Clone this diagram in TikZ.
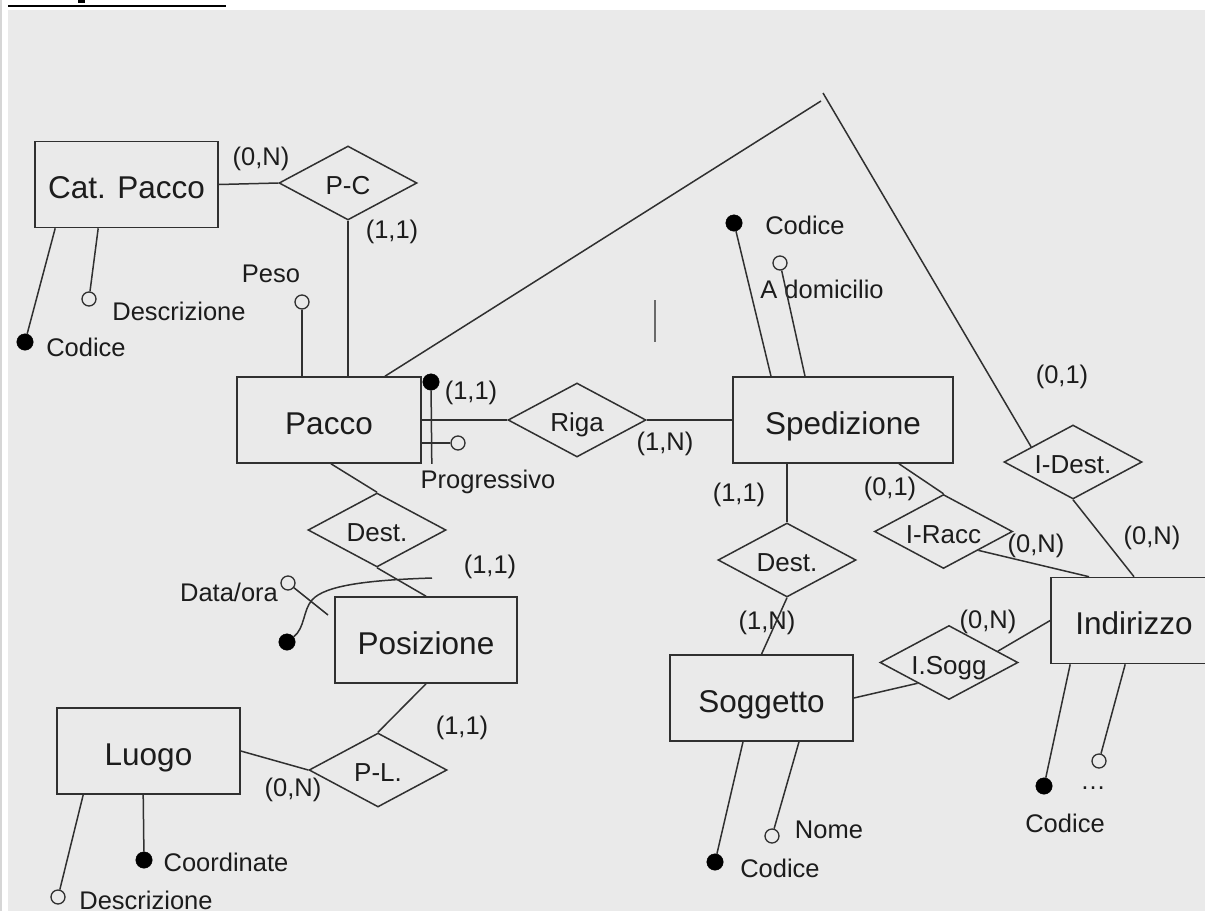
\documentclass[tikz,border=0pt]{standalone}
\usepackage{fontspec}
\setmainfont{Liberation Sans}
\usetikzlibrary{shapes.geometric,calc}
\definecolor{bg}{HTML}{EAEAEA}
\definecolor{strip}{HTML}{D6D6D6}
\definecolor{ln}{HTML}{303030}
\definecolor{tx}{HTML}{1C1C1C}
\definecolor{stray}{HTML}{6A6A6A}
\tikzset{
 ent/.style={draw=ln, line width=1.6pt, minimum height=86pt, inner sep=0pt,
   font=\fontsize{31.5}{36}\selectfont, text=tx, text height=28.5pt, text depth=0pt},
 rel/.style={draw=ln, line width=1.5pt, diamond, aspect=1.87, minimum width=138pt,
   minimum height=74pt, inner sep=0pt, font=\fontsize{26}{30}\selectfont, text=tx,
   text height=23pt, text depth=0pt},
 lbl/.style={font=\fontsize{25.5}{30}\selectfont, text=tx, inner sep=0pt},
 keydot/.style={circle, fill=black, draw=black, minimum size=16.5pt, inner sep=0pt},
 optdot/.style={circle, fill=bg, draw=ln, line width=1.3pt, minimum size=14pt, inner sep=0pt},
 conn/.style={draw=ln, line width=1.5pt},
}
\begin{document}
\begin{tikzpicture}[x=1pt,y=-1pt]
\useasboundingbox (0,0) rectangle (1205,911);
\clip (0,0) rectangle (1205,911);
\fill[white] (0,0) rectangle (1205,911);
\fill[strip] (0,0) rectangle (1.8,911);
\fill[bg] (8,10) rectangle (1205,911);
\draw[black, line width=1.3pt] (8,6) -- (226,6);
\fill[black] (78,0) rectangle (85,2.6);
\draw[stray, line width=1.5pt] (655,300) -- (655,342);

% entities
\node[ent, minimum width=183pt] (cp) at (126.5,184.5) {Cat. Pacco};
\node[ent, minimum width=184pt] (pacco) at (329,420) {Pacco};
\node[ent, minimum width=220pt] (sped) at (843,420) {Spedizione};
\node[ent, minimum width=182pt] (pos) at (426,640) {Posizione};
\node[ent, minimum width=183pt] (luogo) at (148.5,751) {Luogo};
\node[ent, minimum width=183pt] (sog) at (761.5,698) {Soggetto};
\node[ent, minimum width=166pt] (ind) at (1134,620.5) {Indirizzo};

% relationships
\node[rel] (pc) at (348,183) {P-C};
\node[rel] (riga) at (577,420) {Riga};
\node[rel] (dest1) at (377,530) {Dest.};
\node[rel] (pl) at (378,770) {P-L.};
\node[rel] (dest2) at (787,560) {Dest.};
\node[rel] (iracc) at (943.5,531.5) {I-Racc};
\node[rel] (isogg) at (949,662.5) {I.Sogg};
\node[rel] (idest) at (1073,462) {I-Dest.};

% labels
\node[lbl] (l1) at (261,159) {(0,N)};
\node[lbl] (l2) at (392,232) {(1,1)};
\node[lbl] (l3) at (271,274) {Peso};
\node[lbl] (l4) at (179,311) {Descrizione};
\node[lbl] (l5) at (86,347) {Codice};
\node[lbl] (l6) at (471,393) {(1,1)};
\node[lbl] (l7) at (488,482) {Progressivo};
\node[lbl] (l8) at (665,444) {(1,N)};
\node[lbl] (l9) at (805,225) {Codice};
\node[lbl] (l10) at (822,289) {A domicilio};
\node[lbl] (l11) at (1062,377) {(0,1)};
\node[lbl] (l12) at (739,495) {(1,1)};
\node[lbl] (l13) at (890,489) {(0,1)};
\node[lbl] (l14) at (1036,546) {(0,N)};
\node[lbl] (l15) at (1152,538) {(0,N)};
\node[lbl] (l16) at (767,623) {(1,N)};
\node[lbl] (l17) at (988,622) {(0,N)};
\node[lbl] (l18) at (490,567) {(1,1)};
\node[lbl] (l19) at (229,592) {Data/ora};
\node[lbl] (l20) at (462,728) {(1,1)};
\node[lbl] (l21) at (293,790) {(0,N)};
\node[lbl] (l22) at (226,862) {Coordinate};
\node[lbl] (l23) at (146,900) {Descrizione};
\node[lbl] (l24) at (829,830) {Nome};
\node[lbl] (l25) at (780,868) {Codice};
\node[lbl] (l26) at (1093,788) {…};
\node[lbl] (l27) at (1065,823) {Codice};

% attribute dots
\node[keydot] (k1) at (25,342) {};
\node[optdot] (o1) at (89,299) {};
\node[optdot] (opeso) at (302,302) {};
\node[keydot] (kprog) at (431,382) {};
\node[optdot] (oprog) at (458,443) {};
\node[keydot] (ksped) at (734,223) {};
\node[optdot] (odom) at (780,263) {};
\node[optdot] (odata) at (288,583) {};
\node[keydot] (kdata) at (287,642) {};
\node[keydot] (kluogo) at (144,860) {};
\node[optdot] (oluogo) at (58,897) {};
\node[keydot] (ksog) at (715,862) {};
\node[optdot] (osog) at (772,836) {};
\node[keydot] (kind) at (1044,786) {};
\node[optdot] (oind) at (1099,761) {};

\coordinate (apexA) at (821,101);
\coordinate (apexB) at (823,93);
\coordinate (dataend) at (328,615);
\coordinate (curveend) at (432,578);

% connectors
\draw[conn] (cp.east) -- (pc.west);
\draw[conn] (pc.south) -- ([xshift=19pt]pacco.north);
\draw[conn] ([xshift=21pt]cp.south west) -- (k1);
\draw[conn] ([xshift=64pt]cp.south west) -- (o1);
\draw[conn] (opeso) -- ([xshift=-27pt]pacco.north);
\draw[conn] (kprog) -- ([xshift=10pt]pacco.south east);
\draw[conn] ([yshift=-23pt]pacco.east) -- (oprog);
\draw[conn] (pacco.east) -- (riga.west);
\draw[conn] (riga.east) -- (sped.west);
\draw[conn] ([xshift=56pt]pacco.north) -- (apexA);
\draw[conn] (apexB) -- ($(idest.west)!0.4!(idest.north)$);
\draw[conn] ([xshift=-72pt]sped.north) -- (ksped);
\draw[conn] ([xshift=-38pt]sped.north) -- (odom);
\draw[conn] ([xshift=-56pt]sped.south) -- (dest2.north);
\draw[conn] (dest2.south) -- (sog.north);
\draw[conn] ([xshift=56pt]sped.south) -- (iracc.north);
\draw[conn] ($(iracc.east)!0.5!(iracc.south)$) -- ([xshift=-45pt]ind.north);
\draw[conn] (idest.south) -- (ind.north);
\draw[conn] (sog.east) -- ($(isogg.west)!0.55!(isogg.south)$);
\draw[conn] ($(isogg.north)!0.7!(isogg.east)$) -- (ind.west);
\draw[conn] ([xshift=-18.5pt]sog.south) -- (ksog);
\draw[conn] ([xshift=37.5pt]sog.south) -- (osog);
\draw[conn] ([xshift=20pt]ind.south west) -- (kind);
\draw[conn] ([xshift=75pt]ind.south west) -- (oind);
\draw[conn] ([xshift=2pt]pacco.south) -- (dest1.north);
\draw[conn] (dest1.south) -- (pos.north);
\draw[conn] (pos.south) -- (pl.north);
\draw[conn] (luogo.east) -- (pl.west);
\draw[conn] ([xshift=27pt]luogo.south west) -- (oluogo);
\draw[conn] ([xshift=87pt]luogo.south west) -- (kluogo);
\draw[conn] (odata) -- (dataend);
\draw[conn] (kdata) .. controls (305,628) and (303,610) .. (312,600) .. controls (325,585) and (370,580) .. (curveend);
\end{tikzpicture}
\end{document}
